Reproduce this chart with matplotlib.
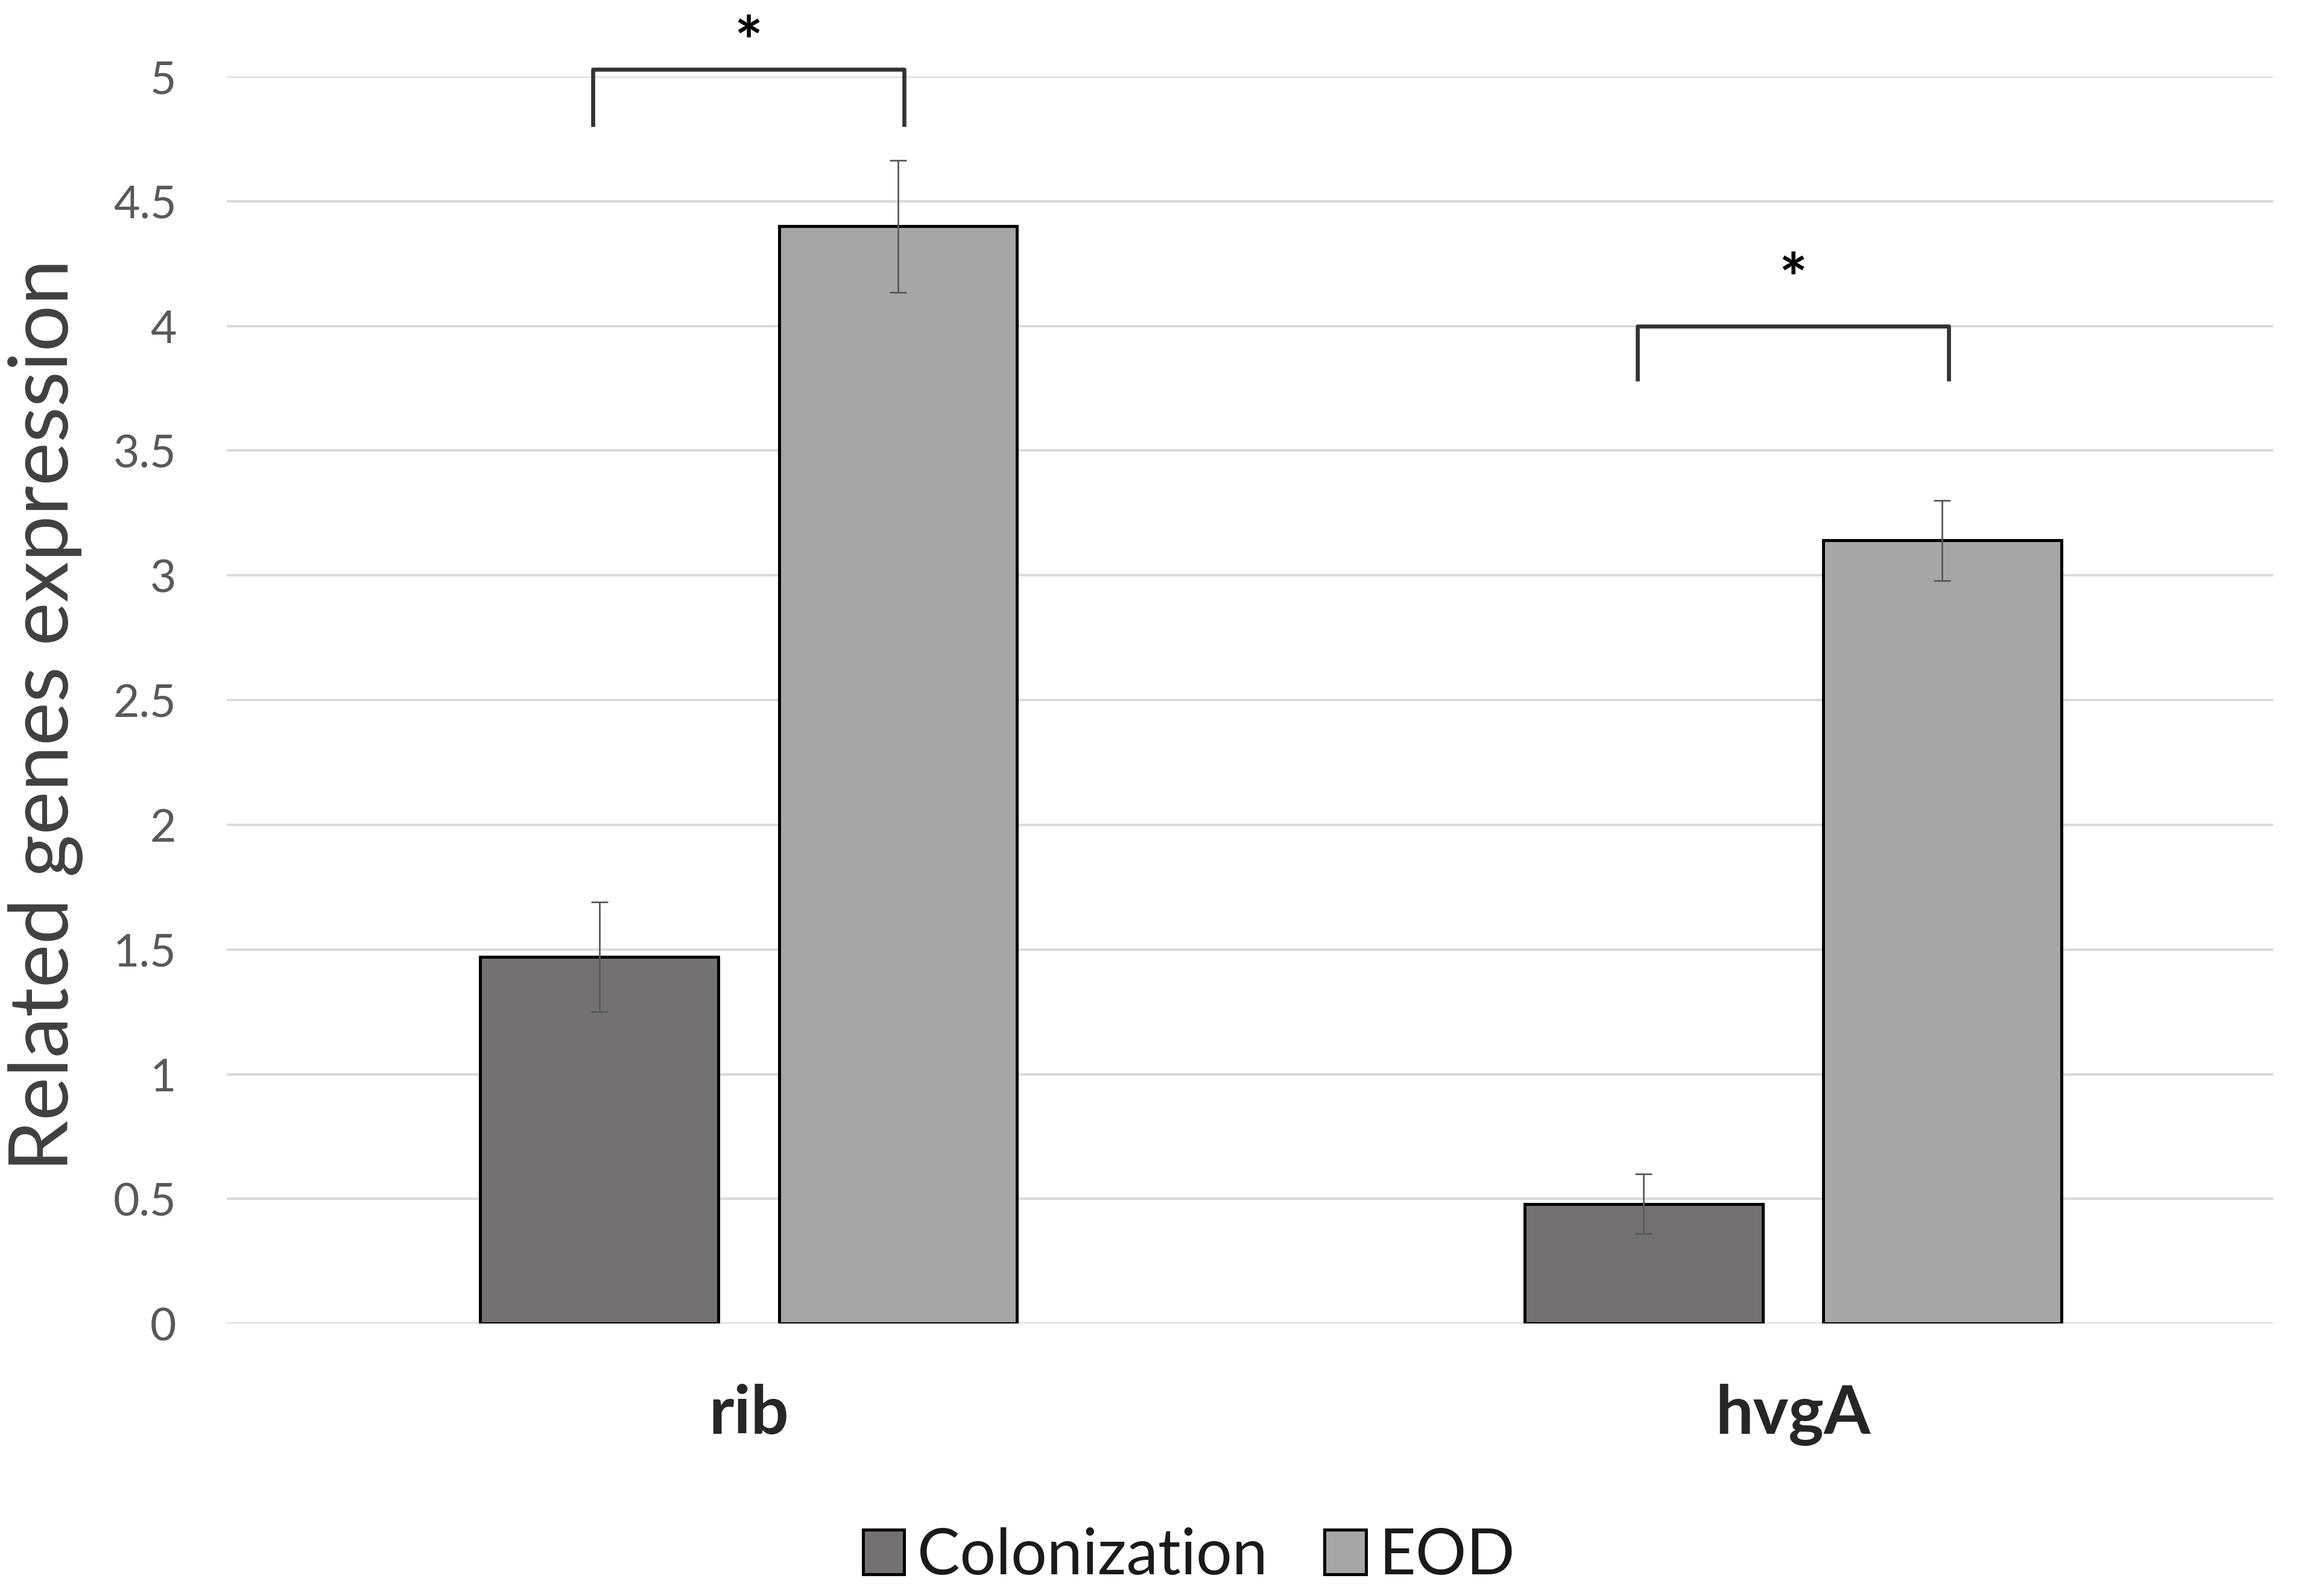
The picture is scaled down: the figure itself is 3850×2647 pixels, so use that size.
import numpy as np
import matplotlib.pyplot as plt

plt.rcParams['font.family'] = ['Lato', 'DejaVu Sans']

genes = ['rib', 'hvgA']
groups = ['Colonization', 'EOD']
colonization = [1.47, 0.48]
colonization_err = [0.22, 0.12]
eod = [4.40, 3.14]
eod_err = [0.265, 0.16]
yticks = [0, 0.5, 1, 1.5, 2, 2.5, 3, 3.5, 4, 4.5, 5]
ytick_labels = ['0', '0.5', '1', '1.5', '2', '2.5', '3', '3.5', '4', '4.5', '5']
# significance brackets: (gene index, bracket top, leg bottom, star y)
brackets = [(0, 5.03, 4.80, 5.12), (1, 4.00, 3.78, 4.17)]

fig = plt.figure(figsize=(19.25, 13.235), dpi=200)
ax = fig.add_axes([0.0976, 0.1707, 0.8814, 0.7813])

x = np.arange(len(genes))
off = 0.143
w = 0.228

for y in yticks:
    ax.axhline(y, color='#d9d9d9', lw=1.4, zorder=0)

ax.bar(x - off, colonization, w, color='#767171', edgecolor='black', lw=1.8,
       label=groups[0], zorder=2)
ax.bar(x + off, eod, w, color='#a6a6a6', edgecolor='black', lw=1.8,
       label=groups[1], zorder=2)
ax.errorbar(x - off, colonization, yerr=colonization_err, fmt='none',
            ecolor='#595959', elinewidth=1.0, capsize=5, capthick=1.0, zorder=3)
ax.errorbar(x + off, eod, yerr=eod_err, fmt='none',
            ecolor='#595959', elinewidth=1.0, capsize=5, capthick=1.0, zorder=3)

for i, top, low, sy in brackets:
    xl, xr = x[i] - 0.149, x[i] + 0.149
    ax.plot([xl, xl, xr, xr], [low, top, top, low], color='#333333', lw=2.4,
            solid_joinstyle='round', solid_capstyle='butt', clip_on=False, zorder=4)
    ax.text(x[i], sy, '*', ha='center', va='center', fontsize=40,
            fontweight='bold', color='black', clip_on=False)

ax.set_xlim(-0.5, 1.46)
ax.set_ylim(0, 5)
ax.set_yticks(yticks)
ax.set_yticklabels(ytick_labels)
ax.set_xticks(x)
ax.set_xticklabels(genes, fontsize=40, fontweight='bold', color='#262626')
for s in ax.spines.values():
    s.set_visible(False)
ax.tick_params(axis='y', length=0, pad=30, labelsize=27, labelcolor='#595959')
ax.tick_params(axis='x', length=0, pad=36)

ax.set_ylabel('Related genes expression', fontsize=49, color='#404040')
ax.yaxis.set_label_coords(-0.070, 0.488)

fig.legend(loc='center', bbox_to_anchor=(0.512, 0.025), ncol=2, frameon=False,
           fontsize=38, handlelength=0.65, handleheight=0.7, handletextpad=0.2,
           columnspacing=0.9, labelcolor='#1a1a1a')

fig.savefig('out.png', dpi=200)
